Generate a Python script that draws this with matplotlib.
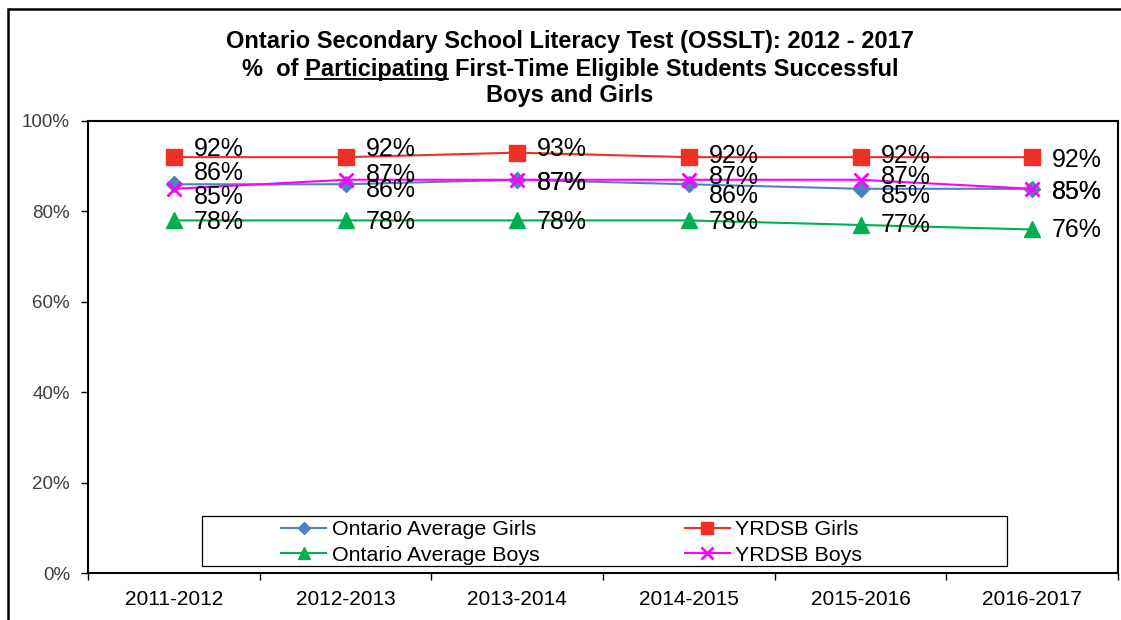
import numpy as np
import matplotlib
matplotlib.use('Agg')
import matplotlib.pyplot as plt
from matplotlib.patches import Rectangle
from matplotlib.lines import Line2D

plt.rcParams['font.family'] = ['Liberation Sans', 'DejaVu Sans']

years = ['2011-2012', '2012-2013', '2013-2014', '2014-2015', '2015-2016', '2016-2017']
ont_girls = [86, 86, 87, 86, 85, 85]
yrdsb_girls = [92, 92, 93, 92, 92, 92]
ont_boys = [78, 78, 78, 78, 77, 76]
yrdsb_boys = [85, 87, 87, 87, 87, 85]
names = ['Ontario Average Girls', 'YRDSB Girls', 'Ontario Average Boys', 'YRDSB Boys']

# label vertical offsets in pixels (down is +), tuned to the picture
lab_dy = {
    'Ontario Average Girls': [-13, 4, 1, 10, 5, 1],
    'YRDSB Girls': [-10, -10, -6, -3, -3, 1],
    'Ontario Average Boys': [0, 0, 0, 0, -2, -1],
    'YRDSB Boys': [6, -7, 1, -5, -5, 1],
}

W, H = 1121, 620
fig = plt.figure(figsize=(W / 100, H / 100), dpi=100)
ax = fig.add_axes([88 / W, (H - 573) / H, (1118 - 88) / W, (573 - 121) / H])

x = np.arange(len(years))
series = [
    (ont_girls, 'Ontario Average Girls', '#4F81BD', 'D', 8, 1),
    (yrdsb_girls, 'YRDSB Girls', '#EE3124', 's', 11, 1),
    (ont_boys, 'Ontario Average Boys', '#00B050', '^', 11, 1),
    (yrdsb_boys, 'YRDSB Boys', '#FF00FF', 'x', 10, 2),
]
handles = {}
for vals, name, col, mk, ms, mew in series:
    ln, = ax.plot(x, vals, color=col, lw=1.5, marker=mk, ms=ms, mec=col, mfc=col,
                  mew=mew, label=name, zorder=3)
    handles[name] = ln

for vals, name, col, mk, ms, mew in series:
    for i, v in enumerate(vals):
        ax.annotate(f'{v}%', (x[i], v), xytext=(20, -(lab_dy[name][i] + 9)),
                    textcoords='offset pixels', ha='left', va='baseline',
                    fontsize=18, color='black', zorder=5)

ax.set_xlim(-0.5, len(years) - 0.5)
ax.set_ylim(0, 100)
ax.set_yticks(range(0, 101, 20))
ax.set_yticklabels([f'{t}%' for t in range(0, 101, 20)], fontsize=13.5, color='#404040')
ax.set_xticks(x)
ax.set_xticklabels(years, fontsize=15)
ax.set_xticks(np.arange(-0.5, len(years), 1), minor=True)
ax.tick_params(axis='x', which='major', length=0, pad=12)
ax.tick_params(axis='x', which='minor', length=5, width=1, direction='out')
ax.tick_params(axis='y', length=5, width=1, direction='out', pad=8)
for s in ax.spines.values():
    s.set_linewidth(1.5)
    s.set_color('black')

# legend
order = ['Ontario Average Girls', 'Ontario Average Boys', 'YRDSB Girls', 'YRDSB Boys']
leg = fig.legend([handles[n] for n in order], order, ncol=2, frameon=False,
                 loc='upper left', bbox_to_anchor=(277 / W, 1 - 516 / H),
                 borderpad=0.2, borderaxespad=0, handlelength=2.1, handletextpad=0.25,
                 columnspacing=6.8, labelspacing=0.3, fontsize=15.4, markerscale=0.8)
fig.add_artist(Rectangle((202 / W, 1 - 566 / H), (1007 - 202) / W, 50 / H,
                         transform=fig.transFigure, fill=True, fc='white',
                         ec='black', lw=0.9, zorder=4))
leg.set_zorder(6)

# outer frame
fig.add_artist(Rectangle((8 / W, -0.05), 1.1, 1 - 9 / H + 0.05,
                         transform=fig.transFigure, fill=False, ec='black', lw=1.8))

# title
tkw = dict(fontsize=17, fontweight='bold', ha='center', va='baseline')
cx = 570 / W
fig.text(cx, 1 - 48 / H, 'Ontario Secondary School Literacy Test (OSSLT): 2012 - 2017', **tkw)
line2 = '%  of Participating First-Time Eligible Students Successful'
t2 = fig.text(cx, 1 - 76 / H, line2, **tkw)
fig.text(cx, 1 - 102 / H, 'Boys and Girls', **tkw)

r = fig.canvas.get_renderer()
def width(s):
    t = fig.text(0, 0, s, fontsize=17, fontweight='bold')
    w = t.get_window_extent(r).width
    t.remove()
    return w
bb = t2.get_window_extent(r)
x_end = bb.x0 + width('%  of Participating')
x_start = x_end - width('Participating')
yb = H - 76 - 3
fig.add_artist(Line2D([x_start / W, x_end / W], [yb / H, yb / H],
                      transform=fig.transFigure, color='black', lw=1.3))

fig.savefig('out.png', dpi=100)
